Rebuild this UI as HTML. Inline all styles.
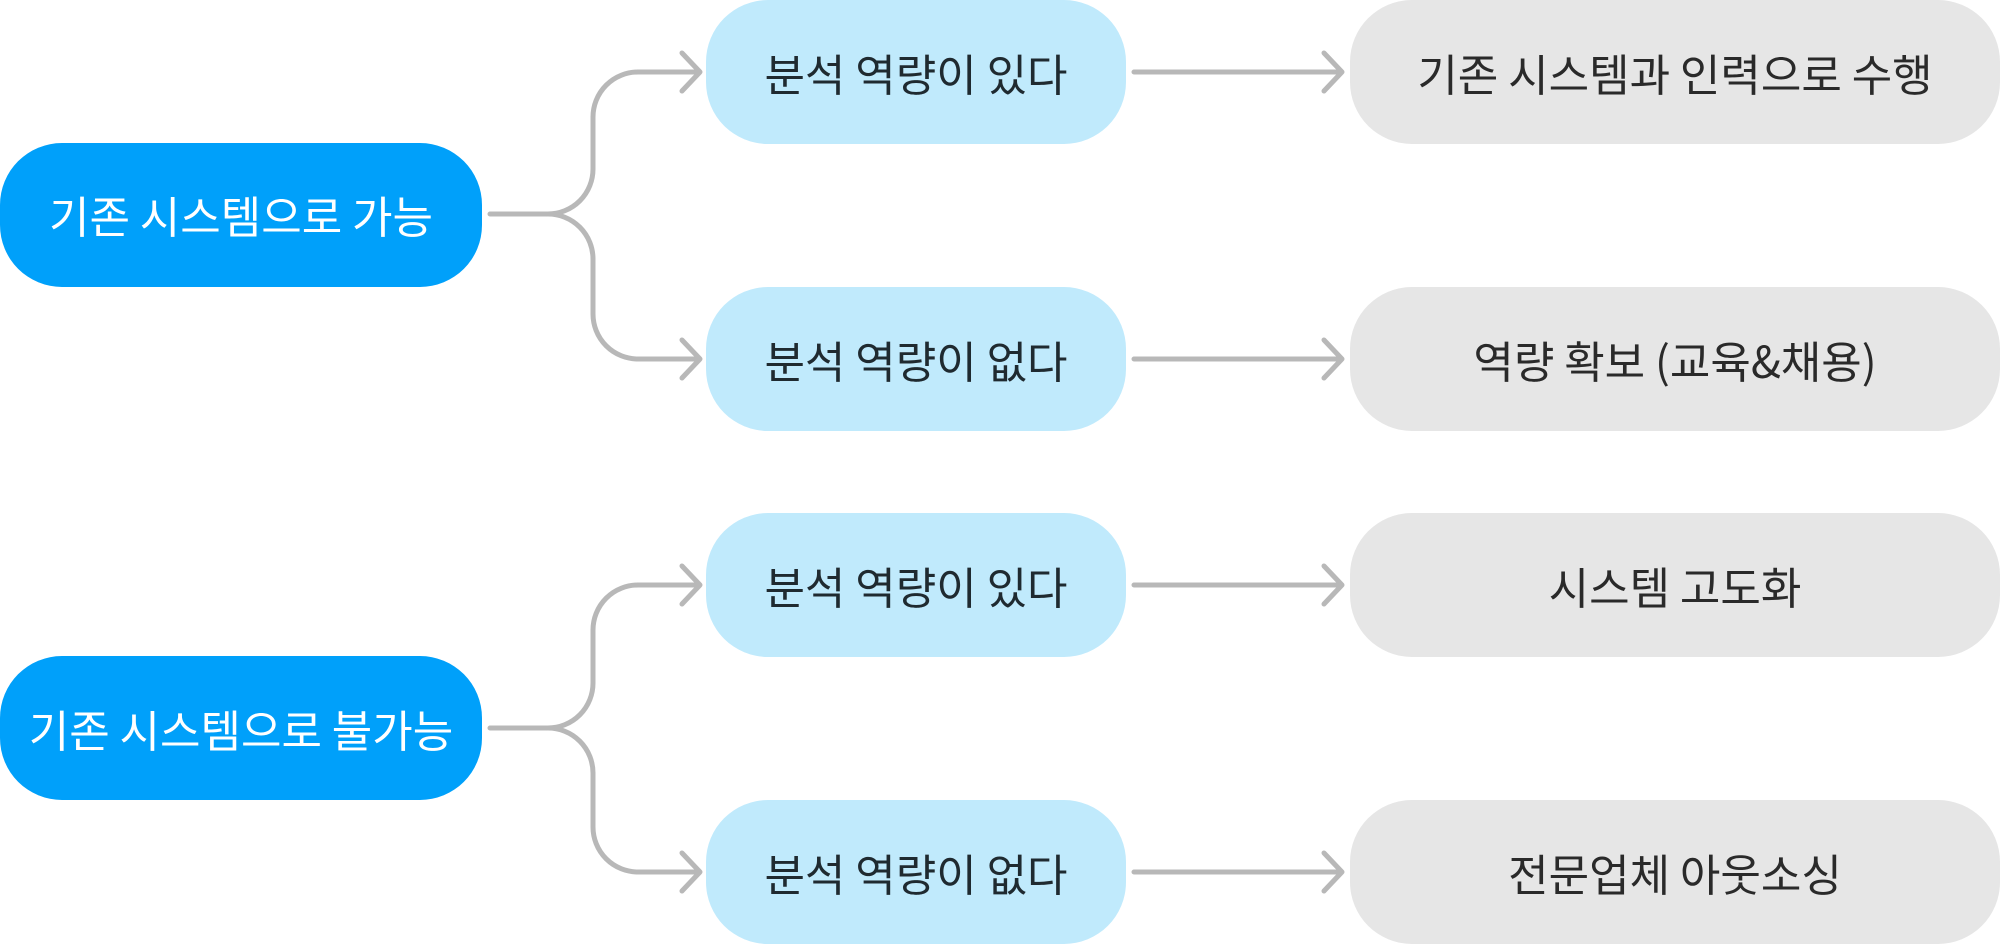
<!DOCTYPE html>
<html><head><meta charset="utf-8"><style>
html,body{margin:0;padding:0;background:#fff;}
svg{display:block;}
text{font-family:"Noto Sans CJK KR",sans-serif;font-size:44px;dominant-baseline:central;text-anchor:middle;}
</style></head><body>
<svg width="2000" height="944" viewBox="0 0 2000 944" xmlns="http://www.w3.org/2000/svg">
<g fill="none" stroke="#b8b8b8" stroke-width="5" stroke-linecap="round" stroke-linejoin="round">
<path d="M490 214 H548 A45 45 0 0 0 593 169 V117 A45 45 0 0 1 638 72 H698"/>
<path d="M548 214 A45 45 0 0 1 593 259 V314 A45 45 0 0 0 638 359 H698"/>
<path d="M682 53 L700 72 L682 91"/><path d="M682 340 L700 359 L682 378"/>
<path d="M490 728 H548 A45 45 0 0 0 593 683 V630 A45 45 0 0 1 638 585 H698"/>
<path d="M548 728 A45 45 0 0 1 593 773 V827 A45 45 0 0 0 638 872 H698"/>
<path d="M682 566 L700 585 L682 604"/><path d="M682 853 L700 872 L682 891"/>
<path d="M1134 72 H1342 M1324 53 L1342 72 L1324 91"/>
<path d="M1134 359 H1342 M1324 340 L1342 359 L1324 378"/>
<path d="M1134 585 H1342 M1324 566 L1342 585 L1324 604"/>
<path d="M1134 872 H1342 M1324 853 L1342 872 L1324 891"/>
</g>
<rect x="0" y="143" width="482" height="144" rx="62" fill="#00a0fa"/>
<rect x="0" y="656" width="482" height="144" rx="62" fill="#00a0fa"/>
<g fill="#c0eafc">
<rect x="706" y="0" width="420" height="144" rx="62"/>
<rect x="706" y="287" width="420" height="144" rx="62"/>
<rect x="706" y="513" width="420" height="144" rx="62"/>
<rect x="706" y="800" width="420" height="144" rx="62"/>
</g>
<g fill="#e6e6e6">
<rect x="1350" y="0" width="650" height="144" rx="62"/>
<rect x="1350" y="287" width="650" height="144" rx="62"/>
<rect x="1350" y="513" width="650" height="144" rx="62"/>
<rect x="1350" y="800" width="650" height="144" rx="62"/>
</g>
<g fill="#fff">
<text x="241" y="214">기존 시스템으로 가능</text>
<text x="241" y="728">기존 시스템으로 불가능</text>
</g>
<g fill="#1f2a30">
<text x="916" y="72">분석 역량이 있다</text>
<text x="916" y="359">분석 역량이 없다</text>
<text x="916" y="585">분석 역량이 있다</text>
<text x="916" y="872">분석 역량이 없다</text>
</g>
<g fill="#2a2a2a">
<text x="1675" y="72">기존 시스템과 인력으로 수행</text>
<text x="1675" y="359">역량 확보 (교육&amp;채용)</text>
<text x="1675" y="585">시스템 고도화</text>
<text x="1675" y="872">전문업체 아웃소싱</text>
</g>
</svg>
</body></html>
